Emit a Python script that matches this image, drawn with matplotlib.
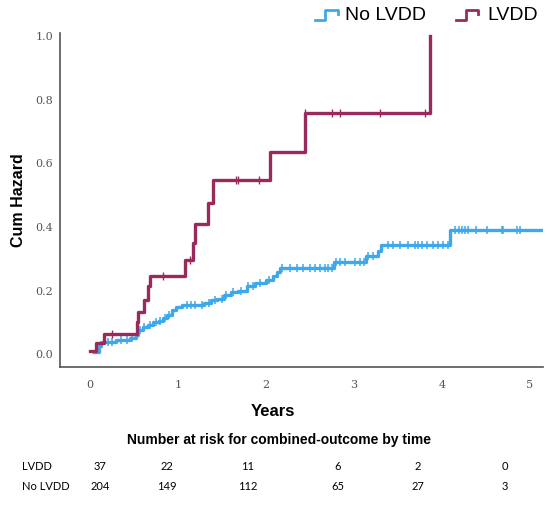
import numpy as np
import matplotlib
matplotlib.use("Agg")
import matplotlib.pyplot as plt
from matplotlib.lines import Line2D

# Cumulative hazard steps (time in years, cum hazard)
lvdd_t = [0.0, 0.065, 0.16, 0.53, 0.55, 0.61, 0.66, 0.68, 1.08, 1.17, 1.20,
          1.345, 1.40, 2.045, 2.45, 3.86]
lvdd_h = [0.01, 0.035, 0.065, 0.10, 0.133, 0.172, 0.214, 0.245, 0.296, 0.35,
          0.41, 0.476, 0.547, 0.637, 0.757, 1.0]
lvdd_cens = [0.25, 0.83, 1.14, 1.66, 1.68, 1.92, 2.45, 2.75, 2.84, 3.30, 3.81]

no_t = [0.05, 0.10, 0.13, 0.30, 0.45, 0.52, 0.55, 0.60, 0.66, 0.72, 0.78, 0.83,
        0.88, 0.93, 0.98, 1.05, 1.30, 1.38, 1.45, 1.52, 1.60, 1.68, 1.78, 1.88,
        2.00, 2.08, 2.13, 2.16, 2.77, 3.14, 3.28, 3.31, 4.09, 5.13]
no_h = [0.008, 0.025, 0.04, 0.045, 0.05, 0.06, 0.075, 0.085, 0.092, 0.10, 0.105,
        0.115, 0.125, 0.14, 0.15, 0.155, 0.16, 0.17, 0.175, 0.185, 0.195, 0.20,
        0.215, 0.225, 0.235, 0.245, 0.26, 0.272, 0.29, 0.308, 0.325, 0.345,
        0.392, 0.392]
no_cens = [0.20, 0.25, 0.35, 0.42, 0.48, 0.57, 0.62, 0.68, 0.75, 0.80, 0.85,
           0.90, 1.10, 1.15, 1.20, 1.27, 1.35, 1.42, 1.50, 1.55, 1.63, 1.72,
           1.80, 1.85, 1.93, 2.03, 2.18, 2.27, 2.35, 2.42, 2.50, 2.56, 2.61,
           2.67, 2.71, 2.75, 2.80, 2.84, 2.90, 3.01, 3.07, 3.11, 3.16, 3.22,
           3.39, 3.45, 3.52, 3.62, 3.69, 3.73, 3.77, 3.83, 3.90, 3.96, 4.01,
           4.07, 4.15, 4.19, 4.23, 4.26, 4.30, 4.39, 4.51, 4.68, 4.70, 4.85,
           4.89]

risk_labels = ["LVDD", "No LVDD"]
risk_lvdd = [37, 22, 11, 6, 2, 0]
risk_no = [204, 149, 112, 65, 27, 3]

c_lvdd = "#9a2a5c"
c_no = "#3da9ea"


def step_val(t, ts, hs):
    i = np.searchsorted(ts, t, side="right") - 1
    return np.asarray(hs)[np.clip(i, 0, len(hs) - 1)]


W, H = 550, 507
fig = plt.figure(figsize=(W / 100, H / 100), dpi=100)
ax = fig.add_axes([60 / W, 1 - 367 / H, (543 - 60) / W, (367 - 33) / H])

ax.plot(no_t, no_h, drawstyle="steps-post", color=c_no, lw=2.4, zorder=2)
ax.plot(no_cens, step_val(no_cens, no_t, no_h), ls="none", marker="|",
        ms=6, mew=1.1, color=c_no, zorder=2)
ax.plot(lvdd_t, lvdd_h, drawstyle="steps-post", color=c_lvdd, lw=2.4, zorder=3)
ax.plot(lvdd_cens, step_val(lvdd_cens, lvdd_t, lvdd_h), ls="none", marker="|",
        ms=6, mew=1.0, color=c_lvdd, zorder=3)

ax.set_xlim(-0.34, 5.15)
ax.set_ylim(-0.04, 1.01)
ax.set_xticks([0, 1, 2, 3, 4, 5])
ax.set_yticks([0.0, 0.2, 0.4, 0.6, 0.8, 1.0])
ax.set_yticklabels(["0.0", "0.2", "0.4", "0.6", "0.8", "1.0"])
ax.tick_params(length=0, labelsize=8, labelcolor="#555555",
               labelfontfamily="DejaVu Serif")
ax.tick_params(axis="y", pad=5)
ax.tick_params(axis="x", pad=9)
for s in ["top", "right"]:
    ax.spines[s].set_visible(False)
for s in ["left", "bottom"]:
    ax.spines[s].set_color("#555555")
    ax.spines[s].set_linewidth(1.2)

ax.set_ylabel("Cum Hazard", fontsize=11.5, fontweight="bold",
              family="Liberation Sans", labelpad=7)

# legend with step icons
def leg_icon(x0, x1, color):
    ys = [1 - 20 / H, 1 - 20 / H, 1 - 10 / H, 1 - 10 / H, 1 - 14 / H]
    xm = x0 + (x1 - x0) * 0.45
    xs = [x0 / W, xm / W, xm / W, x1 / W, x1 / W]
    fig.add_artist(Line2D(xs, ys, color=color, lw=2.0))

leg_icon(315, 338, c_no)
fig.text(345 / W, 1 - 16 / H, "No LVDD", fontsize=14, family="Liberation Sans",
         va="center", ha="left")
leg_icon(456, 478, c_lvdd)
fig.text(487 / W, 1 - 16 / H, "LVDD", fontsize=14, family="Liberation Sans",
         va="center", ha="left")

fig.text(273 / W, 1 - 411 / H, "Years", fontsize=12, fontweight="bold",
         family="Liberation Sans", ha="center", va="center")
fig.text(279 / W, 1 - 440 / H, "Number at risk for combined-outcome by time",
         fontsize=10, fontweight="bold", family="Liberation Sans",
         ha="center", va="center")

col_x = [100, 167, 248, 338, 418, 505]
for lab, row, y in zip(risk_labels, [risk_lvdd, risk_no], [466, 486]):
    fig.text(22 / W, 1 - y / H, lab, fontsize=8, family="Lato",
             ha="left", va="center")
    for x, v in zip(col_x, row):
        fig.text(x / W, 1 - y / H, str(v), fontsize=8, family="Lato",
                 ha="center", va="center")

fig.savefig("out.png", dpi=100)
